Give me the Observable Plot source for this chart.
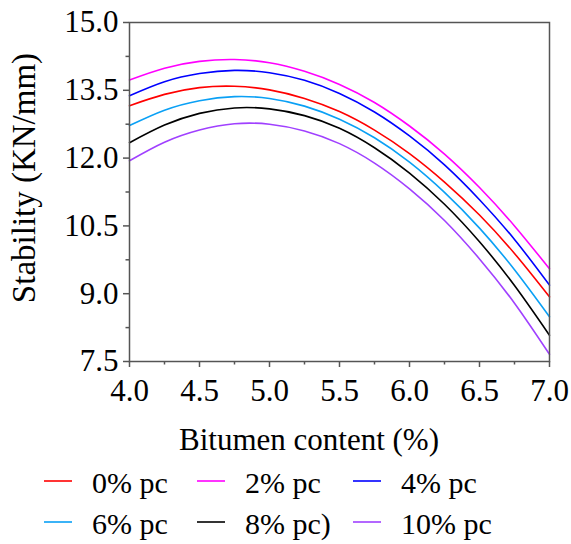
<!DOCTYPE html>
<html>
<head>
<meta charset="utf-8">
<script src="https://cdn.jsdelivr.net/npm/d3@7"></script>
<script src="https://cdn.jsdelivr.net/npm/@observablehq/plot@0.6"></script>
<style>
  html, body { margin: 0; padding: 0; background: #fff; }
  #chart svg { display: block; }
</style>
</head>
<body>
<div id="chart"></div>
<script>
// Bitumen content (%)
const bitumen = [4.0, 4.25, 4.5, 4.75, 5.0, 5.25, 5.5, 5.75, 6.0, 6.25, 6.5, 6.75, 7.0];

// Stability (KN/mm) per series
const pc0  = [13.16, 13.41, 13.56, 13.59, 13.51, 13.32, 13.03, 12.62, 12.10, 11.47, 10.74, 9.89, 8.93];
const pc2  = [13.73, 13.99, 14.14, 14.18, 14.11, 13.92, 13.63, 13.23, 12.71, 12.09, 11.35, 10.50, 9.55];
const pc4  = [13.38, 13.69, 13.87, 13.94, 13.89, 13.72, 13.43, 13.02, 12.49, 11.85, 11.08, 10.20, 9.19];
const pc6  = [12.72, 13.06, 13.27, 13.36, 13.32, 13.15, 12.86, 12.45, 11.91, 11.24, 10.45, 9.53, 8.49];
const pc8  = [12.34, 12.73, 12.99, 13.11, 13.09, 12.94, 12.66, 12.23, 11.67, 10.98, 10.15, 9.18, 8.08];
const pc10 = [11.94, 12.35, 12.62, 12.76, 12.75, 12.60, 12.32, 11.89, 11.32, 10.62, 9.77, 8.79, 7.66];

const seriesNames  = ["0% pc", "2% pc", "4% pc", "6% pc", "8% pc)", "10% pc"];
const seriesValues = [pc0, pc2, pc4, pc6, pc8, pc10];
const seriesColors = ["#ff0000", "#ff00ff", "#0000ff", "#0aa0f5", "#000000", "#a040ff"];

const xTicks = [4.0, 4.5, 5.0, 5.5, 6.0, 6.5, 7.0];
const xMinor = [4.25, 4.75, 5.25, 5.75, 6.25, 6.75];
const yTicks = [7.5, 9.0, 10.5, 12.0, 13.5, 15.0];
const yMinor = [8.25, 9.75, 11.25, 12.75, 14.25];

const rows = [];
seriesNames.forEach((name, i) => {
  bitumen.forEach((b, j) => rows.push({series: name, x: b, y: seriesValues[i][j]}));
});

const font = "Liberation Serif";
const axisGray = "#555555";

const chart = Plot.plot({
  width: 571,
  height: 544,
  marginLeft: 129,
  marginRight: 22,
  marginTop: 22,
  marginBottom: 183,
  style: {fontSize: "31px", color: "#000", background: "#fff"},
  x: {domain: [4, 7]},
  y: {domain: [7.5, 15]},
  color: {domain: seriesNames, range: seriesColors},
  marks: [
    Plot.axisX({ticks: xTicks, tickFormat: d => d.toFixed(1), tickSize: 6, tickPadding: 11, stroke: axisGray, fill: "#000", strokeWidth: 1.5, label: null, fontSize: 31}),
    Plot.axisX({ticks: xMinor, tickFormat: () => "", tickSize: 3.5, stroke: axisGray, strokeWidth: 1.5, label: null}),
    Plot.axisY({ticks: yTicks, tickFormat: d => d.toFixed(1), tickSize: 6, tickPadding: 5, stroke: axisGray, fill: "#000", strokeWidth: 1.5, label: null, fontSize: 31}),
    Plot.axisY({ticks: yMinor, tickFormat: () => "", tickSize: 3.5, stroke: axisGray, strokeWidth: 1.5, label: null}),
    Plot.line(rows, {x: "x", y: "y", z: "series", stroke: "series", strokeWidth: 1.6, curve: "natural"}),
    Plot.frame({stroke: axisGray, strokeWidth: 1.5})
  ]
});

document.getElementById("chart").appendChild(chart);

// Axis titles and legend
const svg = d3.select(chart);
svg.append("text")
  .attr("x", 309).attr("y", 450)
  .attr("text-anchor", "middle")
  .attr("font-size", 31).attr("fill", "#000")
  .text("Bitumen content (%)");

svg.append("text")
  .attr("transform", "translate(35,178) rotate(-90)")
  .attr("text-anchor", "middle")
  .attr("font-size", 33).attr("fill", "#000")
  .text("Stability (KN/mm)");

const legendCols = [44, 197, 353];
const legendRows = [481, 522];
const legend = svg.append("g");
seriesNames.forEach((name, i) => {
  const cx = legendCols[i % 3];
  const cy = legendRows[Math.floor(i / 3)];
  legend.append("line")
    .attr("x1", cx).attr("x2", cx + 28)
    .attr("y1", cy).attr("y2", cy)
    .attr("stroke", seriesColors[i]).attr("stroke-width", 1.6);
  legend.append("text")
    .attr("x", cx + 48).attr("y", cy + 12)
    .attr("text-anchor", "start")
    .attr("font-size", 30).attr("fill", "#000")
    .text(name);
});

chart.setAttribute("font-family", font);
chart.querySelectorAll("text, tspan, g").forEach(el => {
  el.setAttribute("font-family", font);
  el.style.setProperty("font-family", font, "important");
});
</script>
</body>
</html>
